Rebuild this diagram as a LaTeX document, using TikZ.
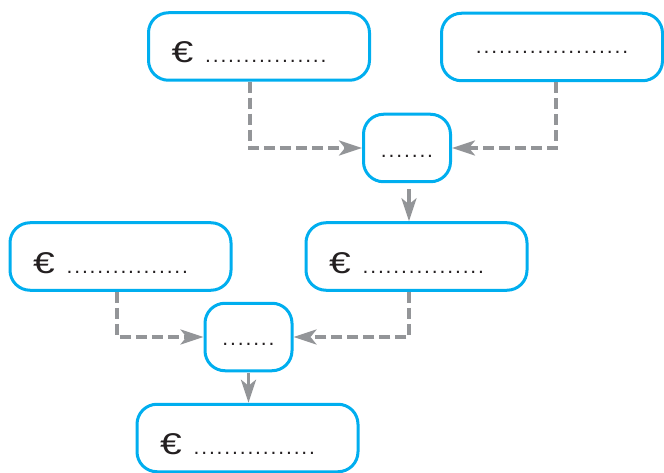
\documentclass[tikz,border=0pt]{standalone}
\usepackage{fontspec}
\setmainfont{Liberation Sans}
\usetikzlibrary{arrows.meta,calc}
\definecolor{boxblue}{RGB}{0,174,239}
\definecolor{arrgray}{RGB}{147,149,152}
\definecolor{txtdark}{RGB}{35,31,32}
\newcommand\dotcell{\makebox[7.7pt]{.}}
\newcommand\dotrow[1]{{\fontsize{21}{21}\selectfont\foreach \i in {1,...,#1}{\dotcell}}}
\newcommand\eurosign{{\fontsize{30}{30}\selectfont\scalebox{1.3}[1]{€}}}
\newcommand\eurotext[1]{\makebox[221pt][l]{\hspace{23pt}\eurosign\hspace{11pt}\dotrow{#1}}}
\tikzset{
  bigbox/.style={draw=boxblue, line width=3pt, rounded corners=20pt,
    minimum width=221pt, minimum height=67.5pt, inner sep=0pt,
    text=txtdark, text height=33pt, text depth=0pt},
  smallbox/.style={draw=boxblue, line width=3pt, rounded corners=20pt,
    minimum width=87pt, minimum height=67.5pt, inner sep=0pt,
    text=txtdark, text height=17pt, text depth=0pt},
  dotbox/.style={bigbox, text height=14pt},
  dasharrow/.style={draw=arrgray, line width=3.4pt, dash pattern=on 11pt off 5pt,
    -{Stealth[length=23pt,width=15pt,inset=6pt]}},
  solidarrow/.style={draw=arrgray, line width=3.4pt,
    -{Stealth[length=23pt,width=15pt,inset=6pt]}}
}
\begin{document}
\begin{tikzpicture}[x=1pt,y=1pt]
\useasboundingbox (0,0) rectangle (664,472);
\node[bigbox] (A) at (259,425.5) {\eurotext{16}};
\node[dotbox] (B) at (552,425) {\dotrow{20}};
\node[smallbox, text height=19pt] (C) at (407,324) {\dotrow{7}};
\node[bigbox] (D) at (120.5,215.5) {\eurotext{16}};
\node[bigbox] (E) at (416.5,215.5) {\eurotext{16}};
\node[smallbox] (F) at (248.5,135) {\dotrow{7}};
\node[bigbox] (G) at (247.5,34) {\eurotext{16}};
\draw[dasharrow] ([xshift=-9pt]A.south) |- (C.west);
\draw[dasharrow] ([xshift=4pt]B.south) |- (C.east);
\draw[solidarrow, shorten <=6pt] ([xshift=2pt]C.south) -- ([xshift=2pt]C.south |- E.north);
\draw[dasharrow] ([xshift=-3.5pt]D.south) |- (F.west);
\draw[dasharrow] ([xshift=-7.5pt]E.south) |- (F.east);
\draw[solidarrow, shorten <=1pt] (F.south) -- (F.south |- G.north);
\end{tikzpicture}
\end{document}
